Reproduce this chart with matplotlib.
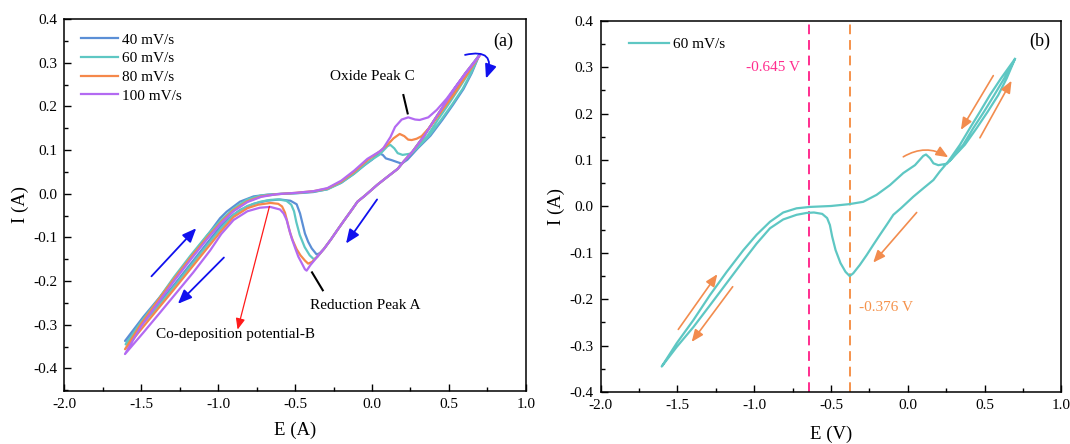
import matplotlib
matplotlib.use("Agg")
import matplotlib.pyplot as plt
from matplotlib.ticker import MultipleLocator

plt.rcParams['font.family'] = ['Liberation Serif', 'DejaVu Serif']
plt.rcParams['axes.unicode_minus'] = False

# ------------------------------------------------------------
# CV loops at four scan rates (E in V, I in A)
# ------------------------------------------------------------
rate_labels = ["40 mV/s", "60 mV/s", "80 mV/s", "100 mV/s"]
rate_colors = ["#5b8fd6", "#5ec7c3", "#f5884a", "#b36af2"]

e40 = [0.698, 0.600, 0.530, 0.460, 0.390, 0.320, 0.250, 0.200,
       0.167, 0.101, 0.036, -0.045, -0.094, -0.138, -0.181, -0.225, -0.268, -0.312,
       -0.340, -0.360, -0.392, -0.415, -0.436, -0.452, -0.468, -0.490, -0.530, -0.600,
       -0.685, -0.770, -0.858, -0.930, -0.988, -1.070, -1.180, -1.290, -1.400, -1.500, -1.606,
       -1.487, -1.378, -1.270, -1.162, -1.053, -0.988, -0.945, -0.858, -0.770, -0.680,
       -0.580, -0.450, -0.380, -0.295, -0.200, -0.120, -0.050, 0.000, 0.030, 0.050,
       0.070, 0.090, 0.128, 0.160, 0.193, 0.230,
       0.300, 0.380, 0.457, 0.527, 0.595, 0.648, 0.698]
i40 = [0.318, 0.268, 0.233, 0.197, 0.160, 0.124, 0.089, 0.071,
       0.057, 0.039, 0.021, -0.004, -0.018, -0.040, -0.061, -0.083, -0.105, -0.126,
       -0.136, -0.139, -0.125, -0.110, -0.091, -0.068, -0.045, -0.024, -0.016, -0.013,
       -0.016, -0.023, -0.037, -0.056, -0.076, -0.112, -0.161, -0.210, -0.257, -0.299, -0.337,
       -0.282, -0.236, -0.186, -0.137, -0.087, -0.056, -0.041, -0.018, -0.006, -0.002,
       0.000, 0.002, 0.004, 0.010, 0.025, 0.045, 0.065, 0.078, 0.088, 0.092,
       0.089, 0.081, 0.077, 0.073, 0.069, 0.078,
       0.105, 0.133, 0.169, 0.204, 0.240, 0.276, 0.318]

e60 = [0.275, 0.361, 0.427, 0.496, 0.563, 0.628, 0.698,
       0.607, 0.535, 0.470, 0.405, 0.340, 0.264,
       0.208, 0.167, 0.101, 0.036, -0.045, -0.094, -0.138, -0.181, -0.225, -0.268, -0.312,
       -0.355, -0.378, -0.405, -0.438, -0.470, -0.492, -0.507, -0.525, -0.557, -0.611,
       -0.660, -0.724, -0.811, -0.897, -0.984, -1.070, -1.179, -1.288, -1.396, -1.505, -1.602,
       -1.505, -1.396, -1.288, -1.179, -1.070, -0.984, -0.897, -0.811, -0.724, -0.637,
       -0.500, -0.381, -0.290, -0.203, -0.116, -0.029, 0.047, 0.101, 0.119, 0.145,
       0.167, 0.199, 0.253, 0.270,
       0.372, 0.449, 0.520, 0.589, 0.644, 0.698]
i60 = [0.099, 0.133, 0.169, 0.204, 0.240, 0.276, 0.318,
       0.276, 0.240, 0.204, 0.169, 0.133, 0.097,
       0.075, 0.057, 0.039, 0.021, -0.004, -0.018, -0.040, -0.061, -0.083, -0.105, -0.126,
       -0.144, -0.150, -0.141, -0.122, -0.094, -0.065, -0.040, -0.025, -0.016, -0.013,
       -0.014, -0.018, -0.028, -0.047, -0.080, -0.117, -0.165, -0.213, -0.260, -0.303, -0.345,
       -0.295, -0.245, -0.191, -0.141, -0.094, -0.061, -0.033, -0.013, -0.004, -0.001,
       0.001, 0.005, 0.010, 0.025, 0.046, 0.072, 0.089, 0.109, 0.112, 0.104,
       0.093, 0.089, 0.092, 0.097,
       0.133, 0.169, 0.204, 0.240, 0.276, 0.318]

e80 = [0.702, 0.607, 0.535, 0.470, 0.405, 0.340, 0.264, 0.208,
       0.167, 0.101, 0.036, -0.045, -0.094, -0.138, -0.181, -0.225, -0.268, -0.312,
       -0.355, -0.390, -0.415, -0.436, -0.465, -0.490, -0.515, -0.533, -0.550, -0.566,
       -0.585, -0.610, -0.660, -0.740, -0.810, -0.900, -0.980, -1.070, -1.180, -1.290,
       -1.400, -1.500, -1.606,
       -1.500, -1.400, -1.290, -1.180, -1.070, -0.980, -0.900, -0.810, -0.720, -0.620,
       -0.500, -0.380, -0.290, -0.200, -0.116, -0.030, 0.050, 0.100, 0.140, 0.180,
       0.210, 0.235, 0.258, 0.290, 0.323,
       0.377, 0.442, 0.529, 0.616, 0.702]
i80 = [0.318, 0.276, 0.240, 0.204, 0.169, 0.133, 0.097, 0.075,
       0.057, 0.039, 0.021, -0.004, -0.018, -0.040, -0.061, -0.083, -0.105, -0.126,
       -0.144, -0.156, -0.160, -0.153, -0.141, -0.127, -0.107, -0.089, -0.065, -0.043,
       -0.029, -0.023, -0.021, -0.025, -0.033, -0.053, -0.085, -0.124, -0.172, -0.220,
       -0.267, -0.310, -0.356,
       -0.297, -0.248, -0.196, -0.146, -0.099, -0.064, -0.037, -0.017, -0.006, -0.001,
       0.002, 0.006, 0.012, 0.028, 0.050, 0.077, 0.097, 0.112, 0.127, 0.137,
       0.132, 0.124, 0.123, 0.126, 0.132,
       0.153, 0.184, 0.226, 0.272, 0.318]

e100 = [0.702, 0.607, 0.535, 0.470, 0.405, 0.340, 0.264, 0.208,
        0.167, 0.101, 0.036, -0.045, -0.094, -0.138, -0.181, -0.225, -0.268, -0.312,
        -0.355, -0.400, -0.425, -0.436, -0.458, -0.479, -0.500, -0.522, -0.540, -0.555,
        -0.575, -0.598, -0.663, -0.730, -0.810, -0.900, -0.980, -1.053, -1.162, -1.270,
        -1.378, -1.487, -1.606,
        -1.500, -1.400, -1.290, -1.180, -1.070, -0.980, -0.900, -0.810, -0.720, -0.620,
        -0.500, -0.380, -0.290, -0.200, -0.116, -0.030, 0.050, 0.073, 0.120, 0.150,
        0.193, 0.236, 0.280, 0.310, 0.366,
        0.421, 0.486, 0.551, 0.616, 0.702]
i100 = [0.318, 0.276, 0.240, 0.204, 0.169, 0.133, 0.097, 0.075,
        0.057, 0.039, 0.021, -0.004, -0.018, -0.040, -0.061, -0.083, -0.105, -0.126,
        -0.144, -0.163, -0.176, -0.173, -0.158, -0.144, -0.124, -0.102, -0.080, -0.060,
        -0.045, -0.036, -0.030, -0.032, -0.040, -0.060, -0.092, -0.130, -0.180, -0.226,
        -0.272, -0.318, -0.367,
        -0.303, -0.254, -0.201, -0.151, -0.103, -0.067, -0.040, -0.019, -0.007, -0.001,
        0.002, 0.006, 0.013, 0.030, 0.053, 0.080, 0.097, 0.104, 0.130, 0.153,
        0.170, 0.175, 0.170, 0.169, 0.175,
        0.192, 0.218, 0.249, 0.279, 0.318]

# potentials marked in panel (b)
codep_potential = -0.645
peak_a_potential = -0.376

blue_arrow = "#1010ee"
orange_arrow = "#f28c4e"


def style_axes(ax, xlabel, xpad):
    ax.set_xlim(-2.0, 1.0)
    ax.xaxis.set_major_locator(MultipleLocator(0.5))
    ax.xaxis.set_minor_locator(MultipleLocator(0.25))
    ax.yaxis.set_major_locator(MultipleLocator(0.1))
    ax.yaxis.set_minor_locator(MultipleLocator(0.05))
    ax.xaxis.set_major_formatter(plt.FuncFormatter(lambda v, p: f"{v:.1f}"))
    ax.yaxis.set_major_formatter(plt.FuncFormatter(lambda v, p: f"{v:.1f}"))
    ax.tick_params(which="both", direction="in", top=False, right=False,
                   labelsize=11, pad=5)
    ax.tick_params(which="major", length=5, width=1)
    ax.tick_params(which="minor", length=3, width=1)
    for s in ax.spines.values():
        s.set_linewidth(1.1)
    ax.set_xlabel(xlabel, fontsize=13.5, labelpad=xpad)
    ax.set_ylabel("I (A)", fontsize=13.5, labelpad=3)


def arrow(ax, tail, head, color, lw=1.3, scale=14, rad=0.0, hl=0.6, hw=0.25):
    ax.annotate("", xy=head, xytext=tail,
                arrowprops=dict(arrowstyle=f"-|>,head_length={hl},head_width={hw}",
                                color=color, lw=lw, mutation_scale=scale,
                                shrinkA=0, shrinkB=0,
                                connectionstyle=f"arc3,rad={rad}"))


fig = plt.figure(figsize=(10.7, 4.44), dpi=100)
ax1 = fig.add_axes([0.0602, 0.120, 0.4312, 0.837])
ax2 = fig.add_axes([0.5613, 0.117, 0.4306, 0.836])

# ---------------- panel (a) ----------------
curves = [(e40, i40), (e60, i60), (e80, i80), (e100, i100)]
for (e, i), lab, c in zip(curves, rate_labels, rate_colors):
    ax1.plot(e, i, color=c, lw=1.6, label=lab)

ax1.set_ylim(-0.451, 0.4)
style_axes(ax1, "E (A)", 8)
ax1.legend(loc="upper left", bbox_to_anchor=(0.036, 0.963), frameon=False,
           fontsize=11, handlelength=2.45, handletextpad=0.25,
           labelspacing=0.33, borderaxespad=0, borderpad=0)

ax1.text(0.854, 0.348, "(a)", fontsize=13, ha="center", va="center")
ax1.text(0.0, 0.269, "Oxide Peak C", fontsize=11, ha="center", va="center")
ax1.text(-0.041, -0.255, "Reduction Peak A", fontsize=11, ha="center", va="center")
ax1.text(-0.885, -0.323, "Co-deposition potential-B", fontsize=11,
         ha="center", va="center")

ax1.plot([0.204, 0.232], [0.226, 0.184], color="black", lw=1.5)
ax1.plot([-0.39, -0.32], [-0.180, -0.221], color="black", lw=1.5)

arrow(ax1, (-1.434, -0.189), (-1.143, -0.079), blue_arrow)
arrow(ax1, (-0.963, -0.146), (-1.262, -0.252), blue_arrow)
arrow(ax1, (0.033, -0.013), (-0.169, -0.114), blue_arrow)
arrow(ax1, (0.605, 0.318), (0.741, 0.264), blue_arrow, rad=-0.9)
arrow(ax1, (-0.667, -0.029), (-0.874, -0.311), "#ff1a1a", lw=0.9, scale=11)

# ---------------- panel (b) ----------------
ax2.axvline(codep_potential, color="#ff2d8e", lw=1.4, ls=(0, (5, 3)))
ax2.axvline(peak_a_potential, color="#f5924b", lw=1.4, ls=(0, (5, 3)))
ax2.plot(e60, i60, color=rate_colors[1], lw=1.6, label=rate_labels[1])

ax2.set_ylim(-0.4, 0.4)
style_axes(ax2, "E (V)", 10)
ax2.legend(loc="upper left", bbox_to_anchor=(0.062, 0.955), frameon=False,
           fontsize=11, handlelength=2.6, handletextpad=0.3,
           borderaxespad=0, borderpad=0)

ax2.text(0.858, 0.355, "(b)", fontsize=13, ha="center", va="center")
ax2.text(-0.70, 0.300, f"{codep_potential} V", color="#ff2d8e", fontsize=11,
         ha="right", va="center")
ax2.text(-0.316, -0.217, f"{peak_a_potential} V", color="#f5924b", fontsize=11,
         ha="left", va="center")

arrow(ax2, (-1.494, -0.265), (-1.240, -0.146), orange_arrow, lw=1.2, scale=12)
arrow(ax2, (-1.140, -0.173), (-1.407, -0.292), orange_arrow, lw=1.2, scale=12)
arrow(ax2, (0.058, -0.013), (-0.225, -0.121), orange_arrow, lw=1.2, scale=12)
arrow(ax2, (-0.029, 0.107), (0.264, 0.106), orange_arrow, lw=1.2, scale=12, rad=-0.3)
arrow(ax2, (0.557, 0.282), (0.346, 0.165), orange_arrow, lw=1.2, scale=12)
arrow(ax2, (0.470, 0.148), (0.676, 0.271), orange_arrow, lw=1.2, scale=12)

fig.savefig("out.png", dpi=100)
